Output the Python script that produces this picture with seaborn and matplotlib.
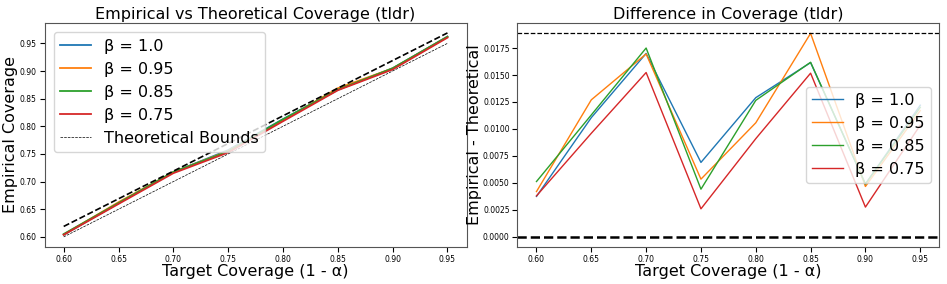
import numpy as np
import pandas as pd
import matplotlib
matplotlib.use("Agg")
import matplotlib.pyplot as plt
import seaborn as sns

# Zielabdeckung (1 - alpha)
targets = [0.60, 0.65, 0.70, 0.75, 0.80, 0.85, 0.90, 0.95]
betas = ["1.0", "0.95", "0.85", "0.75"]

# Differenz empirisch - theoretisch je beta
diff_b100 = [0.00375, 0.01105, 0.0170, 0.0069, 0.0129, 0.01615, 0.0049, 0.0122]
diff_b095 = [0.0042, 0.0127, 0.01695, 0.00535, 0.01057, 0.01886, 0.00467, 0.0117]
diff_b085 = [0.00513, 0.0113, 0.0175, 0.00442, 0.01265, 0.01618, 0.0049, 0.0120]
diff_b075 = [0.0038, 0.0096, 0.01523, 0.0026, 0.0091, 0.01517, 0.00276, 0.01035]

upper_offset = 0.0189  # obere theoretische Schranke (Abstand zur Zielabdeckung)

plt.rcParams["axes.edgecolor"] = "#555555"

diffs = [diff_b100, diff_b095, diff_b085, diff_b075]
rows = []
for beta, d in zip(betas, diffs):
    for t, v in zip(targets, d):
        rows.append({"target": t, "beta": f"β = {beta}", "diff": v, "empirical": t + v})
df = pd.DataFrame(rows)

palette = ["#1f77b4", "#ff7f0e", "#2ca02c", "#d62728"]
order = [f"β = {b}" for b in betas]
fs = 11.5

fig, (ax1, ax2) = plt.subplots(1, 2, figsize=(9.47, 2.84), dpi=100)

# Linkes Diagramm: empirische vs. theoretische Abdeckung
sns.lineplot(data=df, x="target", y="empirical", hue="beta", hue_order=order,
             palette=palette, ax=ax1, linewidth=1.3)
t = np.array(targets)
ax1.plot(t, t + upper_offset, "k--", linewidth=1.2)
ax1.plot(t, t, "k--", linewidth=0.5, label="Theoretical Bounds")
ax1.set_title("Empirical vs Theoretical Coverage (tldr)", fontsize=fs, pad=3)
ax1.set_xlabel("Target Coverage (1 - α)", fontsize=fs, labelpad=0)
ax1.set_ylabel("Empirical Coverage", fontsize=fs, labelpad=1)
ax1.tick_params(labelsize=5.5, pad=2)
ax1.legend(loc="upper left", fontsize=fs, labelspacing=0.5, handlelength=1.9,
           borderaxespad=0.6)

# Rechtes Diagramm: Differenz
sns.lineplot(data=df, x="target", y="diff", hue="beta", hue_order=order,
             palette=palette, ax=ax2, linewidth=1.0)
ax2.axhline(upper_offset, color="k", linestyle="--", linewidth=0.9)
ax2.axhline(0, color="k", linestyle="--", linewidth=1.8)
ax2.set_title("Difference in Coverage (tldr)", fontsize=fs, pad=3)
ax2.set_xlabel("Target Coverage (1 - α)", fontsize=fs, labelpad=0)
ax2.set_ylabel("Empirical - Theoretical", fontsize=fs, labelpad=1)
ax2.tick_params(labelsize=5.5, pad=2)
ax2.legend(loc="center right", fontsize=fs, labelspacing=0.5, handlelength=1.9)

plt.subplots_adjust(left=0.047, right=0.992, top=0.92, bottom=0.13, wspace=0.12)
plt.savefig("out.png")
